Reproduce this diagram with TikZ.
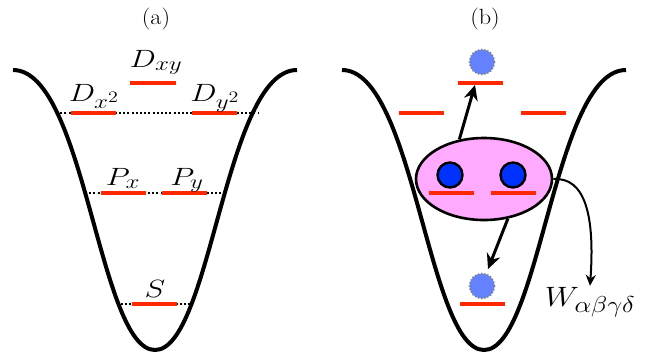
\documentclass[tikz,border=0pt]{standalone}
\usepackage{fix-cm}
\usepackage{amsmath,amssymb}
\usepackage{graphicx}
\usepackage{xcolor}
\usepackage{tikz}
\usetikzlibrary{arrows.meta,positioning,shapes.geometric}
\definecolor{lvlred}{RGB}{255,40,0}
\definecolor{pairpink}{RGB}{255,170,255}
\definecolor{elblue}{RGB}{0,50,255}
\definecolor{ghostblue}{RGB}{100,130,255}
\DeclareMathSizes{25}{25}{20}{16}
\DeclareMathSizes{28}{28}{23}{18}
\newcommand{\wide}[2][1.25]{\scalebox{#1}[1]{#2}}
\begin{document}
\begin{tikzpicture}[x=1pt,y=-1pt, well/.style={line width=4pt}, guide/.style={line width=2pt,dash pattern=on 2pt off 2.2pt}, lvl/.style={draw=lvlred,line width=3.2pt}, lab/.style={anchor=base,inner sep=0pt,font=\fontsize{25}{27}\selectfont}, tag/.style={inner sep=0pt,font=\fontsize{22}{24}\selectfont}, pair/.style={ellipse,draw,line width=2.6pt,fill=pairpink,minimum width=136pt,minimum height=82pt}, elec/.style={circle,draw,line width=2.4pt,fill=elblue,minimum size=25pt,inner sep=0pt}, ghost/.style={circle,draw=gray,line width=1.6pt,dash pattern=on 1.3pt off 1.9pt,fill=ghostblue,minimum size=25pt,inner sep=0pt}, hop/.style={-{Stealth[length=15pt,width=14pt]},line width=3pt}, couple/.style={-{Stealth[length=11pt,width=10pt]},line width=2pt}]
\useasboundingbox (0,0) rectangle (650,354);
% the two wells
\foreach \dx in {0,329}
  \draw[well] (13+\dx,70) .. controls (85+\dx,70) and (99+\dx,350) .. (155+\dx,350) .. controls (211+\dx,350) and (225+\dx,70) .. (297+\dx,70);
% (a) single-particle levels
\node[tag] (taga) at (156,19) {\wide[1.1]{(a)}};
\draw[guide] (56,113) -- (258,113);
\draw[guide] (85,193) -- (226,193);
\draw[guide] (121,304) -- (190,304);
\draw[lvl] (130,83) -- (176,83);
\draw[lvl] (71,113) -- (116,113);
\draw[lvl] (192,113) -- (237,113);
\draw[lvl] (101,193) -- (146,193);
\draw[lvl] (162,193) -- (207,193);
\draw[lvl] (132,304) -- (177,304);
\node[lab] (dxy) at (156,67) {\wide{$D_{xy}$}};
\node[lab] (dx2) at (94,101) {\wide{$D_{x^2}$}};
\node[lab] (dy2) at (215,101) {\wide{$D_{y^2}$}};
\node[lab] (px) at (123,185) {\wide{$P_x$}};
\node[lab] (py) at (187,185) {\wide{$P_y$}};
\node[lab] (s) at (155,297) {\wide{$S$}};
% (b) two-body scattering
\node[tag] (tagb) at (485,19) {\wide[1.1]{(b)}};
\draw[lvl] (458,83) -- (503,83);
\draw[lvl] (399,113) -- (444,113);
\draw[lvl] (521,113) -- (566,113);
\draw[lvl] (460,304) -- (505,304);
\node[ghost] (up) at (482,62) {};
\node[ghost] (down) at (482,286) {};
\node[pair] (pair) at (484,179) {};
\node[elec] (ea) at (450,175) {};
\node[elec] (eb) at (513,175) {};
\draw[lvl] (429,193) -- (474,193);
\draw[lvl] (491,193) -- (536,193);
\coordinate (uptip) at (475,85);
\coordinate (dntip) at (488,269);
\draw[hop] (pair.122) -- (uptip);
\draw[hop] (pair.-59) -- (dntip);
\node[inner sep=1pt,font=\fontsize{28}{30}\selectfont] (wlab) at (590,302) {\wide[1.15]{$W_{\alpha\beta\gamma\delta}$}};
\draw[couple] (pair.east) .. controls (585,177) and (595,215) .. (wlab.north);
\end{tikzpicture}
\end{document}
